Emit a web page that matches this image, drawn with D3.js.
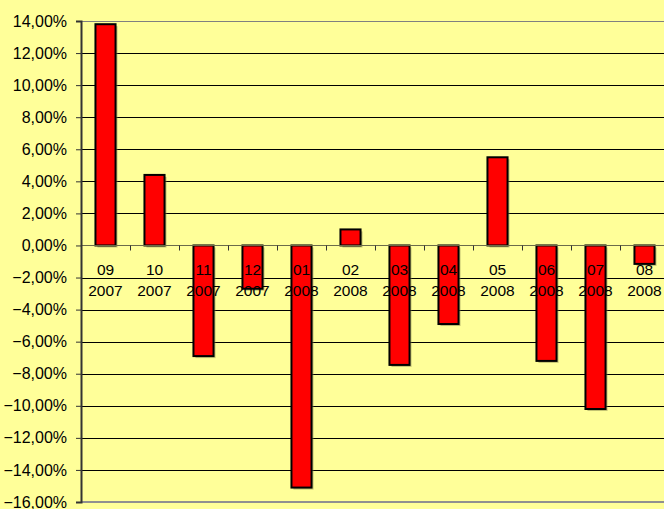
<!DOCTYPE html>
<html>
<head>
<meta charset="utf-8">
<script src="https://cdn.jsdelivr.net/npm/d3@7"></script>
<style>
  html, body { margin: 0; padding: 0; background: #FFFF99; overflow: hidden; }
  svg { display: block; }
  text { font-family: "Liberation Sans", Arial, sans-serif; fill: #000; }
</style>
</head>
<body>
<svg id="chart" width="664" height="509"></svg>
<script>
const months = ["09","10","11","12","01","02","03","04","05","06","07","08"];
const years  = ["2007","2007","2007","2007","2008","2008","2008","2008","2008","2008","2008","2008"];
const values = [13.8, 4.4, -6.9, -2.7, -15.1, 1.0, -7.45, -4.9, 5.5, -7.2, -10.2, -1.15];
const yTicks = [14,12,10,8,6,4,2,0,-2,-4,-6,-8,-10,-12,-14,-16];

(function () {
const W = 664, H = 509;
const pLeft = 81, pRight = 669, pTop = 21, pBottom = 502;
const svg = d3.select("#chart");

svg.append("rect").attr("width", W).attr("height", H).attr("fill", "#FFFF99");

const idx = d3.range(values.length);
const x = d3.scaleBand().domain(idx).range([pLeft, pRight]).paddingInner(0.59).paddingOuter(0.295);
const xb = d3.scaleBand().domain(idx).range([pLeft, pRight]).padding(0);
const y = d3.scaleLinear().domain([-16, 14]).range([pBottom, pTop]);

// gridlines
svg.append("g").selectAll("line")
  .data(yTicks.filter(t => t !== 14 && t !== -16 && t !== 0))
  .join("line")
  .attr("x1", pLeft).attr("x2", W)
  .attr("y1", d => Math.round(y(d)) + 0.5).attr("y2", d => Math.round(y(d)) + 0.5)
  .attr("stroke", "#000").attr("stroke-width", 1);

// plot border top & bottom
svg.append("line").attr("x1", pLeft).attr("x2", W)
  .attr("y1", Math.round(y(14)) + 0.5).attr("y2", Math.round(y(14)) + 0.5)
  .attr("stroke", "#808080").attr("stroke-width", 1);
svg.append("line").attr("x1", pLeft).attr("x2", W)
  .attr("y1", Math.round(y(-16))).attr("y2", Math.round(y(-16)))
  .attr("stroke", "#909090").attr("stroke-width", 2);

// bar shadows
svg.append("g").selectAll("rect")
  .data(idx)
  .join("rect")
  .attr("x", i => x(i) + 2)
  .attr("y", i => Math.min(y(values[i]), y(0)) + 2)
  .attr("width", x.bandwidth())
  .attr("height", i => Math.abs(y(values[i]) - y(0)))
  .attr("fill", "#8a8a50").attr("opacity", 0.5);

// bars
svg.append("g").selectAll("rect")
  .data(idx)
  .join("rect")
  .attr("x", i => x(i))
  .attr("y", i => Math.min(y(values[i]), y(0)))
  .attr("width", x.bandwidth())
  .attr("height", i => Math.abs(y(values[i]) - y(0)))
  .attr("fill", "#FF0000").attr("stroke", "#000").attr("stroke-width", 2);

// zero line
const y0 = Math.round(y(0)) + 0.5;
svg.append("line").attr("x1", pLeft).attr("x2", W).attr("y1", y0).attr("y2", y0)
  .attr("stroke", "#6b6b4a").attr("stroke-width", 1.2);

// category tick marks at boundaries
svg.append("g").selectAll("line")
  .data(d3.range(1, values.length + 1))
  .join("line")
  .attr("x1", i => Math.round(xb(0) + i * xb.step()) + 0.5)
  .attr("x2", i => Math.round(xb(0) + i * xb.step()) + 0.5)
  .attr("y1", y0).attr("y2", y0 + 5)
  .attr("stroke", "#333").attr("stroke-width", 1);

// y axis
const yAxis = d3.axisLeft(y).tickValues(yTicks).tickSize(5).tickPadding(9)
  .tickFormat(d => d3.format(".2f")(d).replace(".", ",") + "%");
const ga = svg.append("g").attr("transform", `translate(${pLeft},0)`).call(yAxis);
ga.select(".domain").attr("stroke", "#333").attr("stroke-width", 2);
ga.selectAll(".tick line").attr("stroke", "#333");
ga.selectAll(".tick text").attr("font-size", 16).attr("fill", "#000")
  .style("font-family", "'Liberation Sans', Arial, sans-serif");

// category labels
const lab = svg.append("g").selectAll("text")
  .data(idx)
  .join("text")
  .attr("text-anchor", "middle")
  .attr("font-size", 15.5)
  .attr("x", i => xb(i) + xb.bandwidth() / 2);
lab.append("tspan").attr("x", i => xb(i) + xb.bandwidth() / 2).attr("y", 275).text(i => months[i]);
lab.append("tspan").attr("x", i => xb(i) + xb.bandwidth() / 2).attr("y", 296).text(i => years[i]);
})();
</script>
</body>
</html>
